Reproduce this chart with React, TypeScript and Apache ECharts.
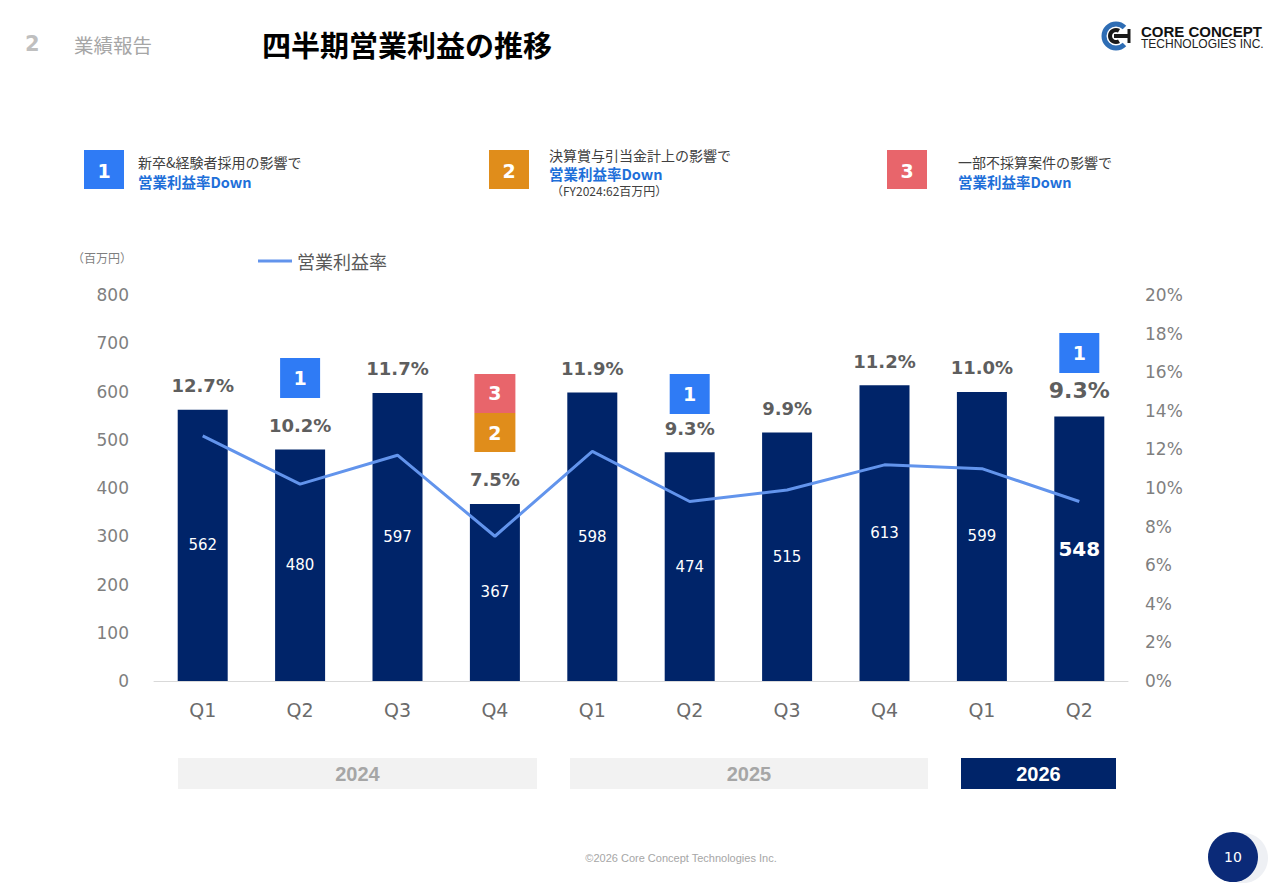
import React, { useEffect, useRef } from "react";
import * as echarts from "echarts";

// 四半期営業利益（百万円）と営業利益率（%）
const quarters = ["Q1", "Q2", "Q3", "Q4", "Q1", "Q2", "Q3", "Q4", "Q1", "Q2"];
const profit = [562, 480, 597, 367, 598, 474, 515, 613, 599, 548];
const margin = [12.7, 10.2, 11.7, 7.5, 11.9, 9.3, 9.9, 11.2, 11.0, 9.3];
const years = ["2024", "2025", "2026"];

// 要因マーカー（カテゴリ番号・高さ(百万円)・番号）
const markerCats = [1, 3, 3, 5, 9];
const markerVals = [628, 596, 515, 595, 680];
const markerNums = ["1", "3", "2", "1", "1"];

// 要因の説明
const reasonLines = [
  ["新卒&経験者採用の影響で", "営業利益率Down"],
  ["決算賞与引当金計上の影響で", "営業利益率Down", "（FY2024:62百万円）"],
  ["一部不採算案件の影響で", "営業利益率Down"],
];

const NAVY = "#002469";
const LINE = "#6294EC";
const JP = '"Noto Sans CJK JP", "Noto Sans", sans-serif';
const NUM = '"DejaVu Sans", Verdana, sans-serif';
const NARROW = '"Liberation Sans Narrow", "Liberation Sans", sans-serif';
const markerColor: Record<string, string> = { "1": "#2F7BF5", "2": "#E08D1B", "3": "#E8656B" };

export default function App() {
  const chartRef = useRef<HTMLDivElement>(null);

  useEffect(() => {
    if (!chartRef.current) return;
    const chart = echarts.init(chartRef.current, undefined, { renderer: "svg" });

    const txt = (text: string, x: number, y: number, size: number, fill: string, extra: any = {}) => ({
      type: "text",
      x,
      y,
      style: {
        text,
        fill,
        fontSize: size,
        fontFamily: extra.family || JP,
        fontWeight: extra.weight || "normal",
        textAlign: extra.align || "left",
        textVerticalAlign: "middle",
      },
    });

    const box = (num: string, x: number, y: number, w: number, h: number) => [
      { type: "rect", shape: { x, y, width: w, height: h }, style: { fill: markerColor[num] } },
      txt(num, x + w / 2, y + h / 2 + 1, 19, "#fff", { family: NUM, weight: "bold", align: "center" }),
    ];

    const reasonX = [84, 489, 887];
    const reasonTextX = [138, 549, 958];
    const reasonGraphics: any[] = [];
    reasonLines.forEach((lines, i) => {
      reasonGraphics.push(...box(String(i + 1), reasonX[i], 150, 40, 39));
      const ys = lines.length === 3 ? [155, 173, 190] : [162, 181];
      lines.forEach((l, j) => {
        if (j === 1) reasonGraphics.push(txt(l, reasonTextX[i], ys[j], 14.5, "#1E6FD9", { weight: "bold" }));
        else if (j === 2) reasonGraphics.push(txt(l, reasonTextX[i] + 2, ys[j], 12, "#404040"));
        else reasonGraphics.push(txt(l, reasonTextX[i], ys[j], 14, "#404040"));
      });
    });

    const bandX = [[178, 537], [570, 928], [961, 1116]];
    const yearGraphics: any[] = [];
    years.forEach((y, i) => {
      const last = i === years.length - 1;
      const [x0, x1] = bandX[i];
      yearGraphics.push({
        type: "rect",
        shape: { x: x0, y: 758, width: x1 - x0, height: 31 },
        style: { fill: last ? NAVY : "#F2F2F2" },
      });
      yearGraphics.push(
        txt(y, (x0 + x1) / 2, 774, 20, last ? "#fff" : "#A6A6A6", { family: NARROW, weight: "bold", align: "center" })
      );
    });

    const option: any = {
      animation: false,
      backgroundColor: "#fff",
      grid: { left: 154, right: 152, top: 295, bottom: 205, containLabel: false },
      legend: {
        data: [{ name: "営業利益率", icon: "rect", itemStyle: { color: LINE } }],
        left: 253,
        top: 247,
        itemWidth: 34,
        itemHeight: 3,
        textStyle: { color: "#595959", fontSize: 18, fontFamily: JP },
      },
      xAxis: {
        type: "category",
        data: quarters,
        axisLine: { lineStyle: { color: "#D9D9D9", width: 1 } },
        axisTick: { show: false },
        axisLabel: { color: "#6B6B6B", fontSize: 19, fontFamily: NUM, margin: 19 },
      },
      yAxis: [
        {
          type: "value",
          min: 0,
          max: 800,
          interval: 100,
          splitLine: { show: false },
          axisLine: { show: false },
          axisTick: { show: false },
          axisLabel: { color: "#7F7F7F", fontSize: 17, fontFamily: NUM, margin: 25 },
        },
        {
          type: "value",
          min: 0,
          max: 20,
          interval: 2,
          position: "right",
          splitLine: { show: false },
          axisLine: { show: false },
          axisTick: { show: false },
          axisLabel: { color: "#7F7F7F", fontSize: 17, fontFamily: NUM, margin: 17, formatter: "{value}%" },
        },
      ],
      series: [
        {
          name: "営業利益",
          type: "bar",
          yAxisIndex: 0,
          barWidth: 50,
          barGap: "-100%",
          itemStyle: { color: NAVY },
          label: { show: true, position: "inside", color: "#fff", fontSize: 15, fontFamily: NUM },
          data: profit.map((v, i) =>
            i === profit.length - 1 ? { value: v, label: { fontSize: 20, fontWeight: "bold" } } : v
          ),
          z: 2,
        },
        {
          name: "営業利益率",
          type: "line",
          yAxisIndex: 1,
          data: margin,
          symbol: "none",
          lineStyle: { color: LINE, width: 3 },
          itemStyle: { color: LINE },
          z: 3,
        },
        {
          name: "率ラベル",
          type: "bar",
          yAxisIndex: 0,
          barWidth: 50,
          barGap: "-100%",
          silent: true,
          itemStyle: { color: "rgba(0,0,0,0)" },
          label: {
            show: true,
            position: "top",
            distance: 15,
            color: "#5E5E5E",
            fontSize: 18,
            fontWeight: "bold",
            fontFamily: NUM,
            formatter: (p: any) => margin[p.dataIndex].toFixed(1) + "%",
          },
          data: profit.map((v, i) =>
            i === profit.length - 1 ? { value: v, label: { fontSize: 22 } } : v
          ),
          z: 4,
        },
        {
          name: "要因",
          type: "scatter",
          yAxisIndex: 0,
          symbol: "rect",
          silent: true,
          data: markerCats.map((c, i) => ({
            value: [c, markerVals[i], markerNums[i]],
            symbolSize: markerCats.filter((x) => x === c).length > 1 ? [41, 39] : [40, 40],
            itemStyle: { color: markerColor[markerNums[i]], opacity: 1 },
          })),
          itemStyle: { opacity: 1 },
          label: {
            show: true,
            position: "inside",
            color: "#fff",
            fontSize: 19,
            fontWeight: "bold",
            fontFamily: NUM,
            formatter: (p: any) => p.value[2],
          },
          z: 5,
        },
      ],
      graphic: [
        // ヘッダー
        txt("2", 25, 44, 21, "#BFBFBF", { family: NUM, weight: "bold" }),
        txt("業績報告", 74, 44, 19.5, "#A6A6A6"),
        txt("四半期営業利益の推移", 262, 44, 29, "#000", { weight: "bold" }),
        // ロゴ
        {
          type: "arc",
          shape: { cx: 1116, cy: 36, r: 12, startAngle: Math.PI / 4, endAngle: (Math.PI * 7) / 4, clockwise: true },
          style: { stroke: "#2E6DB4", lineWidth: 5, fill: "none" },
        },
        {
          type: "arc",
          shape: { cx: 1116, cy: 36, r: 6, startAngle: Math.PI / 3, endAngle: (Math.PI * 5) / 3, clockwise: true },
          style: { stroke: "#1A1A1A", lineWidth: 4, fill: "none" },
        },
        { type: "line", shape: { x1: 1114, y1: 36, x2: 1129, y2: 36 }, style: { stroke: "#1A1A1A", lineWidth: 4 } },
        { type: "line", shape: { x1: 1129, y1: 29, x2: 1129, y2: 43 }, style: { stroke: "#1A1A1A", lineWidth: 3 } },
        txt("CORE CONCEPT", 1141, 31, 15, "#111", { family: '"Liberation Sans", Arial, sans-serif', weight: "bold" }),
        txt("TECHNOLOGIES INC.", 1141, 44, 12, "#222", { family: '"Liberation Sans", Arial, sans-serif' }),
        // 要因説明
        ...reasonGraphics,
        // 単位
        txt("（百万円）", 72, 257, 12, "#7F7F7F"),
        // 年度帯
        ...yearGraphics,
        // フッター
        txt("©2026 Core Concept Technologies Inc.", 681, 858, 11, "#A6A6A6", { family: NARROW, align: "center" }),
        { type: "circle", shape: { cx: 1243, cy: 858, r: 25 }, style: { fill: "#EEF0F4" } },
        { type: "circle", shape: { cx: 1233, cy: 857, r: 25 }, style: { fill: "#0B2A78" } },
        txt("10", 1233, 857, 14, "#fff", { family: NUM, align: "center" }),
      ],
    };

    chart.setOption(option);
    return () => {
      chart.dispose();
    };
  }, []);

  return (
    <div
      ref={chartRef}
      style={{ position: "fixed", left: 0, top: 0, width: 1280, height: 886, background: "#fff" }}
    />
  );
}
